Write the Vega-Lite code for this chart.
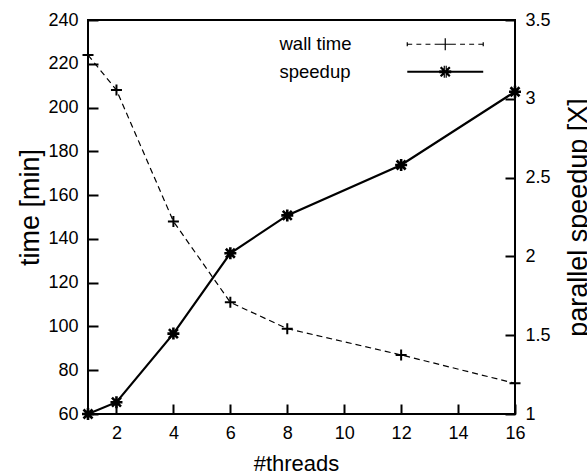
{
  "$schema": "https://vega.github.io/schema/vega-lite/v6.json",
  "width": 427,
  "height": 394,
  "autosize": {"type": "none"},
  "padding": {"left": 88, "top": 20, "right": 72, "bottom": 61},
  "background": "white",
  "config": {
    "view": {"stroke": "black", "strokeWidth": 2},
    "font": "Liberation Sans",
    "axis": {
      "domain": false,
      "grid": false,
      "tickColor": "black",
      "tickWidth": 2,
      "tickSize": -10,
      "labelPadding": 20,
      "labelFontSize": 18,
      "labelColor": "black",
      "titleColor": "black",
      "titleFontWeight": "normal"
    }
  },
  "data": {
    "values": [
      {"threads": 1, "series": "wall time", "value": 224},
      {"threads": 2, "series": "wall time", "value": 208},
      {"threads": 4, "series": "wall time", "value": 148},
      {"threads": 6, "series": "wall time", "value": 111},
      {"threads": 8, "series": "wall time", "value": 99},
      {"threads": 12, "series": "wall time", "value": 87},
      {"threads": 16, "series": "wall time", "value": 74},
      {"threads": 1, "series": "speedup", "value": 1.0},
      {"threads": 2, "series": "speedup", "value": 1.075},
      {"threads": 4, "series": "speedup", "value": 1.51},
      {"threads": 6, "series": "speedup", "value": 2.02},
      {"threads": 8, "series": "speedup", "value": 2.26},
      {"threads": 12, "series": "speedup", "value": 2.58},
      {"threads": 16, "series": "speedup", "value": 3.045}
    ]
  },
  "encoding": {
    "x": {
      "field": "threads",
      "type": "quantitative",
      "scale": {"domain": [1, 16], "nice": false, "zero": false},
      "axis": {
        "values": [2, 4, 6, 8, 10, 12, 14, 16],
        "title": "#threads",
        "titleFontSize": 22,
        "titlePadding": 11,
        "titleX": 208,
        "labelFlush": false,
        "labelOverlap": false
      }
    }
  },
  "layer": [
    {
      "transform": [{"filter": "datum.series === 'wall time'"}],
      "encoding": {
        "y": {
          "field": "value",
          "type": "quantitative",
          "scale": {"domain": [60, 240], "nice": false, "zero": false},
          "axis": {
            "orient": "left",
            "values": [60, 80, 100, 120, 140, 160, 180, 200, 220, 240],
            "title": "time [min]",
            "titleFontSize": 27,
            "titlePadding": 3,
            "titleY": 187
          }
        }
      },
      "layer": [
        {
          "mark": {"type": "line", "color": "black", "strokeWidth": 1.2, "strokeDash": [6, 4]}
        },
        {
          "mark": {"type": "point", "filled": false, "color": "black", "strokeWidth": 2, "size": 121, "opacity": 1, "shape": "M-1,0L1,0M0,-1L0,1"}
        },
        {
          "transform": [{"filter": "datum.threads < 0"}],
          "mark": {"type": "point", "filled": false, "color": "black", "strokeWidth": 1.2, "opacity": 1},
          "encoding": {
            "shape": {
              "field": "series",
              "type": "nominal",
              "scale": {
                "domain": ["wall time", "speedup"],
                "range": [
                  "M-6.33,0L-5.51,0M-4.81,0L-3.99,0M-3.29,0L-2.47,0M-1.77,0L-0.95,0M-1,0L1,0M0.95,0L1.77,0M2.47,0L3.29,0M3.99,0L4.81,0M5.51,0L6.33,0M0,-1L0,1M-6.33,-0.32L-6.33,0.32M6.33,-0.32L6.33,0.32",
                  "M-6.33,-0.08L6.33,-0.08M-6.33,0.08L6.33,0.08M-1,-0.16L1,-0.16M-1,0.16L1,0.16M-0.16,-1L-0.16,1M0.16,-1L0.16,1M-0.82,-0.7L0.7,0.82M-0.7,-0.82L0.82,0.7M-0.76,-0.76L0.76,0.76M-0.82,0.7L0.7,-0.82M-0.7,0.82L0.82,-0.7M-0.76,0.76L0.76,-0.76"
                ]
              },
              "legend": {
                "title": null,
                "orient": "none",
                "legendX": 348,
                "legendY": 15,
                "padding": 0,
                "symbolSize": 144,
                "symbolStrokeWidth": 1.2,
                "symbolStrokeColor": "black",
                "symbolFillColor": "transparent",
                "symbolOpacity": 1,
                "rowPadding": 8.5,
                "labelFontSize": 18.5,
                "labelColor": "black",
                "labelOffset": -175,
                "labelBaseline": "middle"
              }
            }
          }
        }
      ]
    },
    {
      "transform": [{"filter": "datum.series === 'speedup'"}],
      "encoding": {
        "y": {
          "field": "value",
          "type": "quantitative",
          "scale": {"domain": [1, 3.5], "nice": false, "zero": false},
          "axis": {
            "orient": "right",
            "values": [1, 1.5, 2, 2.5, 3, 3.5],
            "format": "~g",
            "title": "parallel speedup [X]",
            "titleFontSize": 27,
            "titleAngle": 270,
            "titleBaseline": "top",
            "titlePadding": 15
          }
        }
      },
      "layer": [
        {
          "mark": {"type": "line", "color": "black", "strokeWidth": 2.2}
        },
        {
          "mark": {"type": "point", "filled": false, "color": "black", "strokeWidth": 2.6, "size": 144, "opacity": 1, "shape": "M-1,0L1,0M0,-1L0,1M-0.75,-0.75L0.75,0.75M-0.75,0.75L0.75,-0.75"}
        }
      ]
    }
  ],
  "resolve": {"scale": {"y": "independent"}}
}
